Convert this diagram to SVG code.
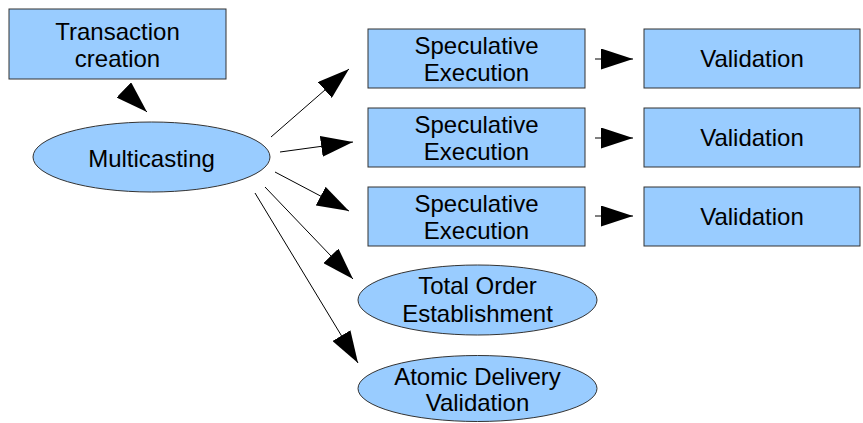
<svg xmlns="http://www.w3.org/2000/svg" width="863" height="423" viewBox="0 0 863 423">
<defs>
<style>
.box{fill:#99ccff;stroke:#333;stroke-width:1}
.t{font-family:"Liberation Sans",Arial,sans-serif;font-size:24px;fill:#000;text-anchor:middle}
.c{stroke:#000;stroke-width:1;fill:none;marker-end:url(#ah)}
</style>
<marker id="ah" markerUnits="userSpaceOnUse" markerWidth="32" markerHeight="21" refX="32" refY="10.5" orient="auto">
<path d="M0,0 L32,10.5 L0,21 z" fill="#000"/>
</marker>
</defs>
<rect width="863" height="423" fill="#fff"/>
<g id="connectors">
<line class="c" x1="124" y1="90" x2="147" y2="112"/>
<line class="c" x1="271" y1="137" x2="349" y2="69"/>
<line class="c" x1="280" y1="152" x2="353" y2="142"/>
<line class="c" x1="275" y1="172" x2="349" y2="211"/>
<line class="c" x1="265" y1="187" x2="353" y2="279"/>
<line class="c" x1="255" y1="193" x2="358" y2="363"/>
<line class="c" x1="595" y1="59" x2="633" y2="59"/>
<line class="c" x1="595" y1="138" x2="633" y2="138"/>
<line class="c" x1="595" y1="216" x2="633" y2="216"/>
</g>
<g id="transaction">
<rect class="box" x="9" y="9" width="217" height="70"/>
<text class="t" x="117.5" y="39.5">Transaction</text>
<text class="t" x="117.5" y="67">creation</text>
</g>
<g id="multicasting">
<ellipse class="box" cx="151.5" cy="157" rx="118.5" ry="35"/>
<text class="t" x="151.5" y="166.5">Multicasting</text>
</g>
<g id="spec1">
<rect class="box" x="368" y="29" width="217" height="59"/>
<text class="t" x="476.5" y="53.5">Speculative</text>
<text class="t" x="476.5" y="81">Execution</text>
</g>
<g id="spec2">
<rect class="box" x="368" y="108" width="217" height="59"/>
<text class="t" x="476.5" y="132.5">Speculative</text>
<text class="t" x="476.5" y="160">Execution</text>
</g>
<g id="spec3">
<rect class="box" x="368" y="187" width="217" height="59"/>
<text class="t" x="476.5" y="211.5">Speculative</text>
<text class="t" x="476.5" y="239">Execution</text>
</g>
<g id="val1">
<rect class="box" x="644" y="29" width="216" height="59"/>
<text class="t" x="752" y="66.5">Validation</text>
</g>
<g id="val2">
<rect class="box" x="644" y="108" width="216" height="59"/>
<text class="t" x="752" y="145.5">Validation</text>
</g>
<g id="val3">
<rect class="box" x="644" y="187" width="216" height="59"/>
<text class="t" x="752" y="224.5">Validation</text>
</g>
<g id="totalorder">
<ellipse class="box" cx="477.5" cy="300" rx="119.5" ry="35"/>
<text class="t" x="477.5" y="293.5">Total Order</text>
<text class="t" x="477.5" y="321.5">Establishment</text>
</g>
<g id="atomic">
<ellipse class="box" cx="477.5" cy="388.5" rx="119.5" ry="33"/>
<text class="t" x="477.5" y="384.5">Atomic Delivery</text>
<text class="t" x="477.5" y="410.5">Validation</text>
</g>
</svg>
